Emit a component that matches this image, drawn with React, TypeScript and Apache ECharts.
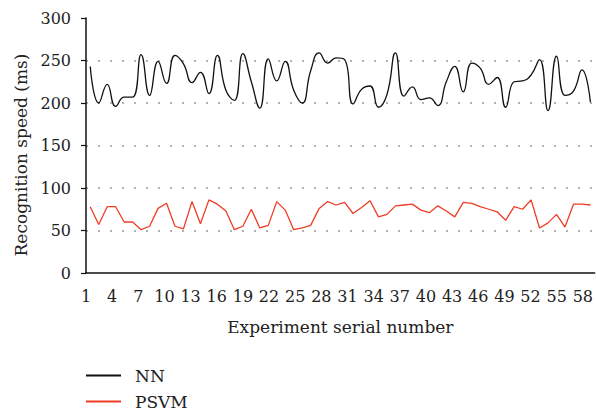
import React, { useEffect, useRef } from "react";
import * as echarts from "echarts";

const serialNumbers: number[] = Array.from({ length: 60 }, (_, i) => i + 1);
const tickLabels: number[] = [1, 4, 7, 10, 13, 16, 19, 22, 25, 28, 31, 34, 37, 40, 43, 46, 49, 52, 55, 58];

const nnValues: number[] = [
  243, 200, 222, 196, 207, 207, 257, 209, 249, 223,
  256, 246, 224, 236, 211, 256, 215, 203, 258, 225,
  194, 252, 226, 249, 215, 200, 238, 259, 247, 253,
  251, 199, 216, 220, 195, 210, 259, 208, 219, 204,
  206, 197, 225, 243, 213, 247, 241, 222, 230, 195,
  225, 226, 233, 251, 191, 255, 209, 214, 239, 201,
];

const psvmValues: number[] = [
  78, 57, 78, 78, 60, 60, 51, 55, 76, 82,
  55, 52, 84, 58, 86, 81, 73, 51, 55, 75,
  53, 56, 84, 74, 51, 53, 56, 76, 84, 80,
  83, 70, 77, 85, 66, 69, 79, 80, 81, 74,
  71, 79, 73, 66, 83, 82, 78, 75, 72, 62,
  78, 75, 86, 53, 59, 69, 54, 81, 81, 80,
];

const FONT = "DejaVu Serif";
const TEXT_COLOR = "#222";

const legendBase = {
  orient: "vertical",
  left: 86,
  padding: 0,
  itemWidth: 35,
  itemHeight: 2,
  icon: "rect",
  textStyle: { fontFamily: FONT, fontSize: 17, color: TEXT_COLOR, padding: [0, 0, 0, 9] },
};

export default function App() {
  const ref = useRef<HTMLDivElement>(null);
  useEffect(() => {
    if (!ref.current) return;
    const chart = echarts.init(ref.current, undefined, { renderer: "svg" });
    chart.setOption({
      animation: false,
      backgroundColor: "#ffffff",
      textStyle: { fontFamily: FONT },
      grid: { left: 86, top: 18, height: 255, right: -3 },
      legend: [
        { ...legendBase, top: 367, data: ["NN"] },
        { ...legendBase, top: 393, data: ["PSVM"] },
      ],
      graphic: [
        {
          type: "text",
          x: 21,
          y: 155,
          rotation: Math.PI / 2,
          style: {
            text: "Recognition speed (ms)",
            font: `17px ${FONT}`,
            fill: TEXT_COLOR,
            align: "center",
            verticalAlign: "middle",
          },
        },
      ],
      xAxis: [
        {
          type: "value",
          min: 0.5,
          max: 60.5,
          position: "bottom",
          axisLine: { show: true, onZero: false, lineStyle: { color: "#111", width: 1.5 } },
          axisTick: { show: false },
          axisLabel: { show: false },
          splitLine: { show: false },
          name: "Experiment serial number",
          nameLocation: "middle",
          nameGap: 45,
          nameTextStyle: { fontFamily: FONT, fontSize: 17, color: TEXT_COLOR },
        },
        {
          type: "value",
          min: 1,
          max: 59.36,
          position: "bottom",
          axisLine: { show: false },
          axisTick: { show: false },
          splitLine: { show: false },
          axisLabel: {
            show: true,
            customValues: tickLabels,
            margin: 15,
            fontFamily: FONT,
            fontSize: 16,
            color: TEXT_COLOR,
            showMinLabel: true,
            showMaxLabel: true,
          },
        },
      ],
      yAxis: {
        type: "value",
        min: 0,
        max: 300,
        interval: 50,
        axisLine: { show: true, lineStyle: { color: "#111", width: 1.5 } },
        axisTick: { show: true, length: 5, lineStyle: { color: "#111", width: 1.2 } },
        axisLabel: { margin: 15, fontFamily: FONT, fontSize: 16, color: TEXT_COLOR },
        splitLine: {
          show: true,
          showMaxLine: false,
          showMinLine: false,
          lineStyle: { color: "#999", width: 1.5, type: [2, 10] },
        },
      },
      series: [
        {
          name: "NN",
          type: "line",
          xAxisIndex: 0,
          smooth: 0.5,
          showSymbol: false,
          symbol: "none",
          data: serialNumbers.map((s, i) => [s, nnValues[i]]),
          lineStyle: { color: "#111", width: 1.3 },
          itemStyle: { color: "#111" },
        },
        {
          name: "PSVM",
          type: "line",
          xAxisIndex: 0,
          showSymbol: false,
          symbol: "none",
          data: serialNumbers.map((s, i) => [s, psvmValues[i]]),
          lineStyle: { color: "#f03c24", width: 1.3 },
          itemStyle: { color: "#f03c24" },
        },
      ],
    });
    return () => chart.dispose();
  }, []);
  return (
    <div
      ref={ref}
      style={{ position: "fixed", left: 0, top: 0, width: 596, height: 412, background: "#fff" }}
    />
  );
}
